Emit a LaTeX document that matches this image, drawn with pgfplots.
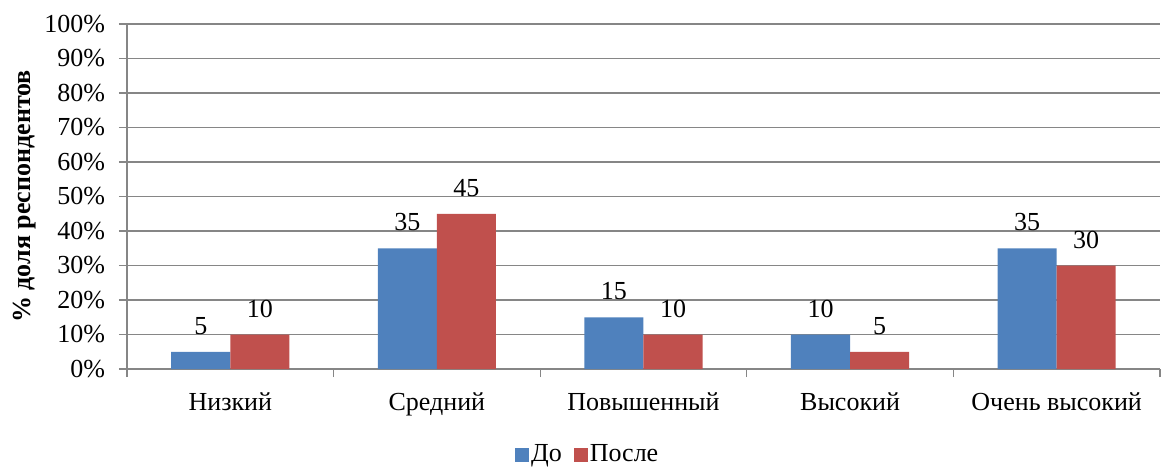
\documentclass[border=0pt]{standalone}
\usepackage{fontspec}
\setmainfont{Liberation Serif}
\usepackage{pgfplots}
\pgfplotsset{compat=1.18}
\definecolor{cblue}{HTML}{4F81BD}
\definecolor{cred}{HTML}{C0504D}
\definecolor{cgrid}{HTML}{868686}
\begin{document}
\begin{tikzpicture}
\fontsize{26}{30}\selectfont
\begin{axis}[
  at={(0,0)}, anchor=south west,
  scale only axis,
  width=1033pt, height=345pt,
  xmin=-0.5, xmax=4.5,
  ymin=0, ymax=100,
  axis lines*=left,
  axis line style={cgrid, line width=1.2pt},
  ytick={0,10,...,100},
  yticklabel={\pgfmathprintnumber{\tick}\%},
  /pgf/number format/assume math mode=true,
  ymajorgrids,
  grid style={cgrid, line width=1.2pt},
  tick style={cgrid, line width=1.2pt},
  tick align=outside,
  major tick length=8pt,
  xtick={-0.5,0.5,...,4.5},
  xticklabels={},
  extra x ticks={0,1,2,3,4},
  extra x tick labels={Низкий,Средний,Повышенный,Высокий,Очень высокий},
  extra x tick style={major tick length=0pt, grid=none, tick label style={yshift=-15pt}},
  yticklabel style={xshift=-5pt},
  ylabel={\bfseries \% доля респондентов},
  ylabel style={at={(axis description cs:-0.0987,0.5)}, anchor=center},
  tick label style={font=\fontsize{26}{30}\selectfont},
  label style={font=\fontsize{26}{30}\selectfont},
  ybar, bar width=0.286,
  nodes near coords,
  nodes near coords style={font=\fontsize{26}{30}\selectfont, anchor=south, inner sep=0pt, yshift=17pt},
  legend columns=2,
  legend style={draw=none, at={(0.446,-0.249)}, anchor=center, font=\fontsize{26}{30}\selectfont, /tikz/every even column/.append style={column sep=10pt}},
  legend image code/.code={\fill[#1] (0pt,-7pt) rectangle (14pt,7pt);},
]
\addplot[fill=cblue, draw=none, bar shift=-0.143] coordinates {(0,5) (1,35) (2,15) (3,10) (4,35)};
\addplot[fill=cred, draw=none, bar shift=0.143] coordinates {(0,10) (1,45) (2,10) (3,5) (4,30)};
\legend{До, После}
\end{axis}
\pgfresetboundingbox
\path[use as bounding box] (-127pt,-98pt) rectangle (1036pt,369pt);
\end{tikzpicture}
\end{document}
